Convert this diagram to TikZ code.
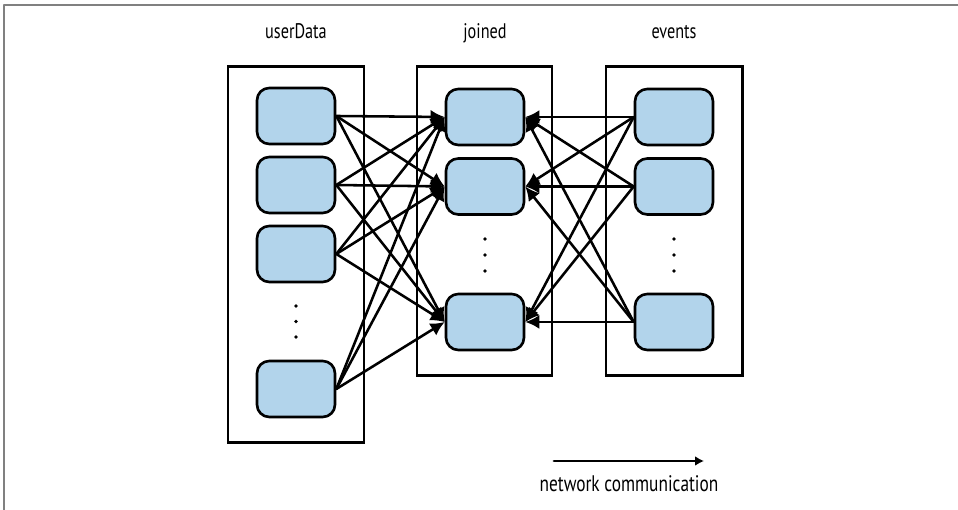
\documentclass[tikz,border=0pt]{standalone}
\usepackage{fontspec}
\setmainfont{PT Sans}[FakeStretch=0.77]
\usepackage{tikz}
\usetikzlibrary{arrows.meta}
\definecolor{cellblue}{RGB}{178,212,235}

\begin{document}
\begin{tikzpicture}[line cap=round, line join=round, >={Latex[length=8pt,width=8pt]},
    cell/.style={draw, line width=1.5pt, rounded corners=7pt, fill=cellblue,
                 minimum width=1.56cm, minimum height=1.12cm, inner sep=0pt},
    part/.style={line width=1.7pt, line join=miter},
    link/.style={->, line width=1.45pt},
    title/.style={anchor=base, font=\fontsize{12}{14}\selectfont}]
  \useasboundingbox (0, 0) rectangle (19.16, 10.2);
  %--- frame
    \draw[gray, line width=0.6pt] (0.08, 0) -- (0.08, 10.1) -- (19.16, 10.1);
  %--- userData
    \draw[part] (4.56, 1.34) rectangle (7.28, 8.86);
    \node[title] (userTitle) at (5.92, 9.42) {userData};
    \node[cell] (u1) at (5.92, 7.88) {};
    \node[cell] (u2) at (5.92, 6.5) {};
    \node[cell] (u3) at (5.92, 5.12) {};
    \node[cell] (u4) at (5.92, 2.42) {};
    \foreach \y in {4.08, 3.77, 3.46}
      \fill (5.92, \y) circle (1.1pt);
  %--- joined
    \draw[part] (8.34, 2.68) rectangle (11.04, 8.86);
    \node[title] (joinTitle) at (9.7, 9.42) {joined};
    \node[cell] (j1) at (9.7, 7.86) {};
    \node[cell] (j2) at (9.7, 6.47) {};
    \node[cell] (j3) at (9.7, 3.76) {};
    \foreach \y in {5.42, 5.1, 4.78}
      \fill (9.7, \y) circle (1.1pt);
  %--- events
    \draw[part] (12.12, 2.68) rectangle (14.84, 8.86);
    \node[title] (eventTitle) at (13.48, 9.42) {events};
    \node[cell] (e1) at (13.48, 7.86) {};
    \node[cell] (e2) at (13.48, 6.47) {};
    \node[cell] (e3) at (13.48, 3.76) {};
    \foreach \y in {5.42, 5.1, 4.78}
      \fill (13.48, \y) circle (1.1pt);
  %--- userData -> joined
    \foreach \i in {1,...,4}
      \foreach \j in {1,2,3}
        \draw[link] (u\i.east) -- (j\j.west);
  %--- events -> joined
    \foreach \i in {1,2,3}
      \foreach \j in {1,2,3}
        \draw[link] (e\i.west) -- (j\j.east);
  %--- legend
    \coordinate (netFrom) at (11.08, 0.98);
    \coordinate (netTo) at (14.08, 0.98);
    \draw[-{Latex[length=5pt,width=5.5pt]}, line width=1.6pt] (netFrom) -- (netTo);
    \node[anchor=base, font=\fontsize{12.8}{15}\selectfont] (netLabel) at (12.58, 0.36) {network communication};
\end{tikzpicture}
\end{document}
